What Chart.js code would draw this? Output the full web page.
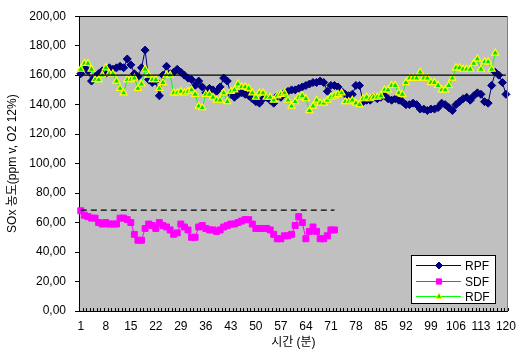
<!DOCTYPE html>
<html><head><meta charset="utf-8">
<script src="https://cdn.jsdelivr.net/npm/chart.js@4"></script>
<style>html,body{margin:0;padding:0;background:#fff}#c{display:block}</style>
</head><body>
<canvas id="c" width="524" height="352"></canvas>
<script>
// ---- data ----
const categories = [];
for (let i = 1; i <= 120; i++) categories.push(String(i));
const tickEvery = 7;

const rpf = [161,165,163,156,159,161,163,161,165,164,165,166,165,171,167,161,159,165,177,157,
155,156,146,160,166,161,162,164,162,160,158,157,153,156,152,148,151,150,149,152,
158,156,147,145,147,148,147,146,144,142,141,144,145,143,141,146,145,148,149,150,
150,151,152,153,154,155,155,156,155,149,153,153,152,149,147,146,147,153,153,142,
143,143,145,144,145,146,144,143,144,143,142,140,140,141,140,137,137,136,137,137,
138,141,140,138,136,140,142,144,145,143,146,148,147,142,141,153,162,160,155,147];

const sdf = [68,65,64,63,63,60,59,60,59,59,59,63,63,62,60,52,48,48,56,59,
58,56,60,58,57,55,52,53,59,57,55,50,50,57,58,56,55,55,54,55,
57,58,59,59,60,61,62,62,59,56,56,56,56,55,52,49,49,51,51,52,
58,64,60,49,54,57,54,49,49,51,55,55];

const rdf = [164,168,168,164,157,157,160,165,161,161,156,151,148,157,157,158,151,154,164,160,
157,157,151,155,160,160,148,148,149,148,149,150,147,139,138,147,147,145,143,143,
148,142,149,150,154,152,152,151,148,145,148,148,145,145,143,146,147,148,143,139,
142,145,146,144,136,139,143,141,141,143,145,146,147,148,142,142,143,141,140,144,
145,144,145,145,146,150,150,153,153,148,147,155,158,158,158,162,158,158,155,155,
153,150,150,153,158,165,165,164,164,164,168,171,164,169,169,164,175];

const rpfAverage = 160;   // solid reference line
const sdfAverage = 68.5;  // dashed reference line
const rpfRange = ['1', '120'];
const sdfRange = ['1', '72'];

const yTicks = [0,20,40,60,80,100,120,140,160,180,200];

const FONT = '"Liberation Sans", "Noto Sans CJK KR", Arial, sans-serif';

const fmt = v => Number(v).toFixed(2).replace('.', ',');

const bgPlugin = {
  id: 'bg',
  beforeDraw(chart) {
    const {ctx, chartArea: a} = chart;
    ctx.save();
    ctx.fillStyle = '#C0C0C0';
    ctx.fillRect(a.left, a.top, a.right - a.left, a.bottom - a.top);
    ctx.restore();
  },
  afterDraw(chart) {
    const {ctx, chartArea: a} = chart;
    const xs = chart.scales.x;
    ctx.save();
    // inward minor tick marks at category boundaries
    const step = xs.getPixelForValue(1) - xs.getPixelForValue(0);
    ctx.strokeStyle = '#000';
    ctx.lineWidth = 1;
    ctx.beginPath();
    for (let i = 0; i <= categories.length; i++) {
      const p = i < categories.length
        ? xs.getPixelForValue(i) - step / 2
        : xs.getPixelForValue(i - 1) + step / 2;
      const px = Math.round(p) + 0.5;
      ctx.moveTo(px, a.bottom);
      ctx.lineTo(px, a.bottom - 3);
    }
    ctx.stroke();
    // plot border
    ctx.strokeStyle = '#000';
    ctx.beginPath();
    ctx.moveTo(Math.round(a.left) + 0.5, Math.round(a.top) + 0.5);
    ctx.lineTo(Math.round(a.right) - 0.5, Math.round(a.top) + 0.5);
    ctx.stroke();
    ctx.strokeStyle = '#808080';
    ctx.beginPath();
    ctx.moveTo(Math.round(a.right) - 0.5, Math.round(a.top) + 0.5);
    ctx.lineTo(Math.round(a.right) - 0.5, Math.round(a.bottom));
    ctx.stroke();

    // legend
    const items = chart.data.datasets.filter(d => d.inLegend);
    const bx = 411, by = 255, bw = 84, bh = 48;
    ctx.fillStyle = '#fff';
    ctx.fillRect(bx, by, bw, bh);
    ctx.strokeStyle = '#000';
    ctx.lineWidth = 1;
    ctx.strokeRect(bx + 0.5, by + 0.5, bw, bh);
    ctx.font = '12px ' + FONT;
    ctx.textBaseline = 'middle';
    ctx.textAlign = 'left';
    items.forEach((d, k) => {
      const y = Math.round(by + 10 + k * 15.5) + 0.5;
      ctx.strokeStyle = d.borderColor;
      ctx.lineWidth = 1;
      ctx.beginPath();
      ctx.moveTo(bx + 5, y);
      ctx.lineTo(bx + 50, y);
      ctx.stroke();
      ctx.fillStyle = d.pointBackgroundColor;
      ctx.strokeStyle = d.pointBorderColor;
      ctx.lineWidth = 1;
      Chart.helpers.drawPoint(ctx, {pointStyle: d.pointStyle, radius: d.pointRadius - 0.5, rotation: 0, borderWidth: 1}, bx + 28, y);
      ctx.fillStyle = '#000';
      ctx.fillText(d.label, bx + 54, y + 1);
    });
    ctx.restore();
  }
};

new Chart(document.getElementById('c'), {
  type: 'line',
  data: {
    labels: categories,
    datasets: [
      {
        label: 'RPF', data: rpf, inLegend: true,
        borderColor: '#000080', borderWidth: 1,
        pointStyle: 'rectRot', pointRadius: 4,
        pointBackgroundColor: '#000080', pointBorderColor: '#000080', pointBorderWidth: 1,
        order: 3, tension: 0
      },
      {
        label: 'SDF', data: sdf, inLegend: true,
        borderColor: '#FF00FF', borderWidth: 1,
        pointStyle: 'rect', pointRadius: 4.2,
        pointBackgroundColor: '#FF00FF', pointBorderColor: '#FF00FF', pointBorderWidth: 1,
        order: 2, tension: 0
      },
      {
        label: 'RDF', data: rdf, inLegend: true,
        borderColor: '#00FF00', borderWidth: 1,
        pointStyle: 'triangle', pointRadius: 4,
        pointBackgroundColor: '#00DD00', pointBorderColor: '#FFFF00', pointBorderWidth: 1.2,
        order: 1, tension: 0
      },
      {
        label: 'RPF avg', data: [{x: rpfRange[0], y: rpfAverage}, {x: rpfRange[1], y: rpfAverage}],
        borderColor: '#000', borderWidth: 1.2, pointRadius: 0, order: 0
      },
      {
        label: 'SDF avg', data: [{x: sdfRange[0], y: sdfAverage}, {x: sdfRange[1], y: sdfAverage}],
        borderColor: '#000', borderWidth: 1.2, borderDash: [6, 4], pointRadius: 0, order: 0
      }
    ]
  },
  options: {
    responsive: false, animation: false, devicePixelRatio: 1,
    layout: {padding: {left: 0, right: 7, top: 14, bottom: 0}},
    plugins: {legend: {display: false}, tooltip: {enabled: false}},
    scales: {
      x: {
        type: 'category', offset: true,
        grid: {display: false, drawTicks: false},
        border: {display: true, color: '#000', width: 1},
        ticks: {
          autoSkip: false, maxRotation: 0, minRotation: 0, padding: 8,
          color: '#000', font: {family: FONT, size: 12},
          callback: (v, i) => (i % tickEvery === 0 ? categories[i] : '')
        },
        title: {display: true, text: '시간 (분)', color: '#000', font: {family: FONT, size: 12}, padding: {top: 2, bottom: 2}},
        afterFit: s => { s.height = 41; }
      },
      y: {
        min: 0, max: 200,
        afterBuildTicks: s => { s.ticks = yTicks.map(v => ({value: v})); },
        grid: {drawOnChartArea: false, drawTicks: true, tickLength: 4, color: '#000'},
        border: {display: true, color: '#000', width: 1},
        ticks: {color: '#000', padding: 9, font: {family: FONT, size: 12}, callback: v => fmt(v)},
        title: {display: true, text: 'SOx 농도(ppm v, O2 12%)', color: '#000', font: {family: FONT, size: 12}, padding: {top: 5, bottom: 0}},
        afterFit: s => { s.width = 79; }
      }
    }
  },
  plugins: [bgPlugin]
});
</script>
</body></html>
